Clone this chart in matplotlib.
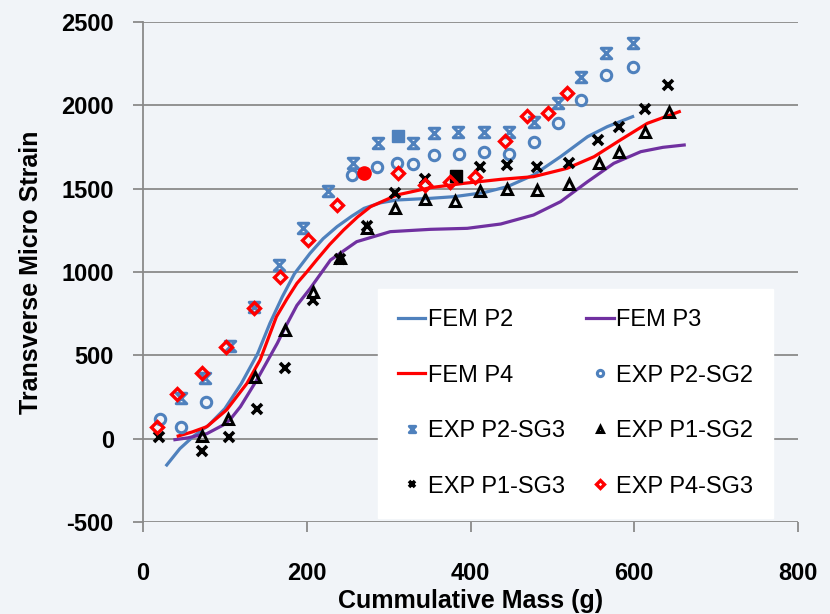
import numpy as np
import matplotlib
matplotlib.use("Agg")
import matplotlib.pyplot as plt
from matplotlib.path import Path

plt.rcParams["axes.unicode_minus"] = False

# FEM curves (cumulative mass g, micro strain)
fem_p2_x = [29, 45, 62, 80, 100, 120, 140, 155, 170, 185, 204, 220, 237, 255, 270, 290,
            310, 351, 380, 416, 445, 477, 510, 543, 567, 598]
fem_p2_y = [-158, -60, 16, 80, 180, 330, 510, 692, 850, 990, 1112, 1200, 1272, 1335, 1382, 1415,
            1432, 1442, 1452, 1476, 1512, 1582, 1692, 1812, 1872, 1932]

fem_p3_x = [39, 55, 70, 78, 98, 106, 119, 139, 164, 172, 188, 204, 229, 261, 302, 351, 396,
            437, 477, 510, 543, 575, 608, 635, 661]
fem_p3_y = [-6, 5, 22, 30, 82, 112, 192, 352, 572, 652, 800, 900, 1072, 1182, 1242, 1256, 1262,
            1288, 1342, 1422, 1542, 1652, 1722, 1748, 1762]

fem_p4_x = [43, 60, 78, 102, 127, 143, 163, 176, 188, 200, 212, 228, 245, 262, 278, 310, 351, 392,
            437, 477, 518, 551, 583, 616, 655]
fem_p4_y = [16, 40, 72, 172, 332, 472, 732, 840, 932, 1000, 1072, 1165, 1252, 1330, 1392, 1462, 1506, 1532,
            1556, 1572, 1622, 1692, 1792, 1892, 1962]

# strain gauge readings
p2_sg2_x = [21, 46, 77, 255, 286, 310, 330, 355, 386, 416, 447, 477, 507, 535, 566, 598]
p2_sg2_y = [118, 72, 220, 1582, 1628, 1656, 1650, 1700, 1710, 1722, 1710, 1780, 1892, 2032, 2182, 2232]

p2_sg3_x = [47, 76, 106, 136, 166, 196, 226, 256, 287, 312, 330, 355, 385, 416, 447, 477,
            507, 535, 566, 598]
p2_sg3_y = [242, 362, 554, 788, 1040, 1262, 1486, 1654, 1772, 1816, 1772, 1834, 1840, 1842, 1840, 1902,
            2012, 2168, 2312, 2372]
p2_sg3_sq = 9  # reading shown with a solid square

p1_sg2_x = [72, 104, 137, 173, 208, 240, 274, 308, 345, 381, 412, 444, 481, 520, 557, 581, 613, 642]
p1_sg2_y = [16, 116, 372, 652, 882, 1085, 1265, 1382, 1438, 1428, 1487, 1497, 1494, 1528, 1652, 1722,
            1840, 1960]

p1_sg3_x = [20, 72, 105, 139, 173, 208, 240, 274, 308, 344, 382, 412, 445, 481, 520, 556, 581, 613, 641]
p1_sg3_y = [12, -72, 8, 178, 422, 832, 1080, 1276, 1474, 1558, 1576, 1632, 1640, 1632, 1656, 1792,
            1872, 1976, 2122]
p1_sg3_sq = 10

p4_sg3_x = [17, 42, 72, 101.5, 136, 167.5, 201.5, 237, 269.5, 312, 345, 375.5, 406, 441.6, 469, 495, 518]
p4_sg3_y = [72, 268, 396, 548, 782, 972, 1192, 1402, 1592, 1592, 1525, 1542, 1568, 1786, 1934, 1956, 2076]
p4_sg3_dot = 8

blue = "#4f81bd"
purple = "#7030a0"
red = "#ff0000"
grid_c = "#8a8a8a"

# hourglass marker (x with bars top and bottom)
hourglass = Path([(-1, 1), (1, 1), (-1, -1), (1, -1), (-1, 1)],
                 [Path.MOVETO, Path.LINETO, Path.LINETO, Path.LINETO, Path.CLOSEPOLY])

fig = plt.figure(figsize=(8.3, 6.14), dpi=100, facecolor="#f1f4f8")
ax = fig.add_axes([143 / 830, 1 - 522 / 614, 655 / 830, 500 / 614])
ax.set_facecolor("none")

ax.set_xlim(0, 800)
ax.set_ylim(-500, 2500)
ax.set_xticks(range(0, 801, 200))
ax.set_yticks(range(-500, 2501, 500))
for yv in range(-500, 2501, 500):
    ax.axhline(yv, color=grid_c, lw=1.3, zorder=1)
for s in ["top", "right", "bottom"]:
    ax.spines[s].set_visible(False)
ax.spines["left"].set_color(grid_c)
ax.spines["left"].set_linewidth(1.3)
ax.tick_params(axis="y", length=7, width=1.3, color=grid_c, pad=14, labelsize=17)
ax.tick_params(axis="x", length=7, width=1.3, color=grid_c, pad=22, labelsize=17)
for lab in ax.get_xticklabels() + ax.get_yticklabels():
    lab.set_fontweight("bold")
    lab.set_family("Liberation Sans")

h_p2, = ax.plot(fem_p2_x, fem_p2_y, color=blue, lw=2.3, label="FEM P2", zorder=3)
h_p3, = ax.plot(fem_p3_x, fem_p3_y, color=purple, lw=2.3, label="FEM P3", zorder=3)
h_p4, = ax.plot(fem_p4_x, fem_p4_y, color=red, lw=2.3, label="FEM P4", zorder=3)

ms = 7.5
h_c, = ax.plot(p2_sg2_x, p2_sg2_y, ls="none", marker="o", ms=ms, mfc="none", mec=blue, mew=2.2,
               label="EXP P2-SG2", zorder=4)
keep = [i for i in range(len(p2_sg3_x)) if i != p2_sg3_sq]
h_hg, = ax.plot([p2_sg3_x[i] for i in keep], [p2_sg3_y[i] for i in keep], ls="none",
                marker=hourglass, ms=ms, mfc="none", mec=blue, mew=2.2, label="EXP P2-SG3", zorder=4)
ax.plot(p2_sg3_x[p2_sg3_sq], p2_sg3_y[p2_sg3_sq], ls="none", marker="s", ms=8.5, color=blue, zorder=4)

h_t, = ax.plot(p1_sg2_x, p1_sg2_y, ls="none", marker="^", ms=ms, mfc="none", mec="black", mew=2.2,
               label="EXP P1-SG2", zorder=5)
keep = [i for i in range(len(p1_sg3_x)) if i != p1_sg3_sq]
h_x, = ax.plot([p1_sg3_x[i] for i in keep], [p1_sg3_y[i] for i in keep], ls="none", marker="x",
               ms=ms, mec="black", mew=2.6, label="EXP P1-SG3", zorder=5)
ax.plot(p1_sg3_x[p1_sg3_sq], p1_sg3_y[p1_sg3_sq], ls="none", marker="s", ms=8.5, color="black", zorder=5)

keep = [i for i in range(len(p4_sg3_x)) if i != p4_sg3_dot]
h_d, = ax.plot([p4_sg3_x[i] for i in keep], [p4_sg3_y[i] for i in keep], ls="none", marker="D",
               ms=6.5, mfc="none", mec=red, mew=2.4, label="EXP P4-SG3", zorder=6)
ax.plot(p4_sg3_x[p4_sg3_dot], p4_sg3_y[p4_sg3_dot], ls="none", marker="o", ms=9.5, color=red, zorder=6)

# legend filled column by column
handles = [h_p2, h_p4, h_hg, h_x, h_p3, h_c, h_t, h_d]
leg = fig.legend(handles=handles, labels=[h.get_label() for h in handles], ncol=2,
                 loc="upper left", bbox_to_anchor=(378 / 830, 1 - 509 / 614, 395 / 830, 220 / 614),
                 mode="expand", borderaxespad=0, frameon=True, fancybox=False,
                 facecolor="white", edgecolor="white", framealpha=1,
                 prop={"family": "Liberation Sans", "size": 17}, markerscale=0.6,
                 handlelength=1.15, handletextpad=0.1, labelspacing=1.42, borderpad=0.85,
                 columnspacing=1.5)
leg.set_zorder(10)

ax.set_xlabel("Cummulative Mass (g)", family="Liberation Sans",
              fontweight="bold", fontsize=18, labelpad=3)
ax.set_ylabel("Transverse Micro Strain", family="Liberation Sans",
              fontweight="bold", fontsize=18, labelpad=13)

fig.savefig("out.png", dpi=100, facecolor=fig.get_facecolor())
